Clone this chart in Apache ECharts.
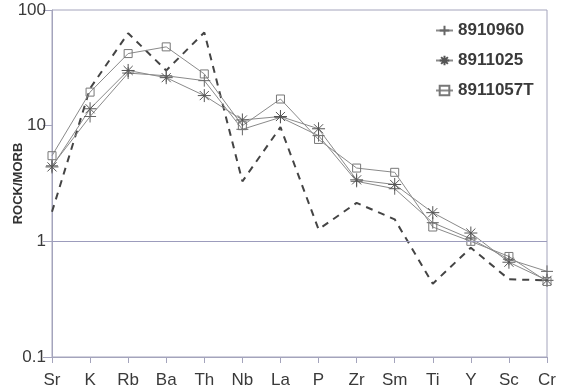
<!DOCTYPE html>
<html>
<head>
<meta charset="utf-8">
<script src="https://cdn.jsdelivr.net/npm/echarts@6/dist/echarts.min.js"></script>
<style>html,body{margin:0;padding:0;background:#fff}#c{width:567px;height:392px}</style>
</head>
<body>
<div id="c"></div>
<script>
var categories = ['Sr','K','Rb','Ba','Th','Nb','La','P','Zr','Sm','Ti','Y','Sc','Cr'];
var s8910960  = [4.5, 12, 28.5, 27, 24.5, 9.3, 11.8, 8.2, 3.3, 2.85, 1.45, 1.05, 0.70, 0.55];
var s8911025  = [4.4, 14, 30, 26, 18.2, 11.2, 12, 9.4, 3.4, 3.1, 1.77, 1.18, 0.66, 0.46];
var s8911057T = [5.5, 19.5, 42, 48, 28, 10, 17, 7.6, 4.3, 3.95, 1.33, 1.0, 0.74, 0.45];
var reference = [1.8, 21, 63, 30, 64, 3.3, 9.7, 1.27, 2.15, 1.55, 0.43, 0.88, 0.47, 0.46];
var yTicks = [0.1, 1, 10, 100];

var FONT = 'Liberation Sans, Arial, sans-serif';
var AX = '#a4a4bc';
var plusPath = 'path://M0,5L10,5M5,0L5,10';
var starPath = 'path://M0,5L10,5M5,0L5,10M1.5,1.5L8.5,8.5M8.5,1.5L1.5,8.5';

function sampleSeries(name, data, symbol, size, col) {
  return {
    name: name, type: 'line', data: data,
    symbol: symbol, symbolSize: size, showSymbol: true,
    lineStyle: {color: '#8a8a8a', width: 1},
    itemStyle: {color: 'transparent', borderColor: col, borderWidth: 1},
    emphasis: {disabled: true}, z: 3
  };
}

var chart = echarts.init(document.getElementById('c'), null, {renderer: 'canvas'});
chart.setOption({
  animation: false,
  backgroundColor: '#fff',
  grid: {left: 52, right: 20, top: 10, bottom: 35, containLabel: false, outerBoundsMode: 'none',
    show: true, borderColor: AX, borderWidth: 1, backgroundColor: 'transparent'},
  legend: {
    data: ['8910960', '8911025', '8911057T'],
    orient: 'vertical', left: 430, top: 17,
    itemWidth: 17, itemHeight: 12, itemGap: 13,
    textStyle: {fontFamily: FONT, fontWeight: 'bold', fontSize: 17, color: '#3a3a3a'}
  },
  xAxis: {
    type: 'category', data: categories, boundaryGap: false,
    axisLine: {lineStyle: {color: AX, width: 1}},
    axisTick: {show: true, alignWithLabel: true, length: 6, lineStyle: {color: AX}},
    axisLabel: {fontFamily: FONT, fontSize: 17, color: '#3a3a3a', margin: 15},
    splitLine: {show: false}
  },
  yAxis: {
    type: 'log', logBase: 10, min: 0.1, max: 100,
    name: 'ROCK/MORB', nameLocation: 'middle', nameGap: 27, nameMoveOverlap: false,
    nameTextStyle: {fontFamily: FONT, fontWeight: 'bold', fontSize: 13, color: '#333'},
    axisLine: {show: true, lineStyle: {color: AX, width: 1}},
    axisTick: {show: true, length: 9, lineStyle: {color: AX}},
    axisLabel: {fontFamily: FONT, fontSize: 17, color: '#3a3a3a', margin: 6,
      formatter: function (v) { var t = yTicks.filter(function(x){return Math.abs(x - v) < 1e-9;}); return t.length ? String(t[0]) : ''; }},
    splitLine: {show: false}
  },
  series: [
    sampleSeries('8910960', s8910960, plusPath, 12, '#666'),
    sampleSeries('8911025', s8911025, starPath, 13, '#555'),
    sampleSeries('8911057T', s8911057T, 'rect', 8, '#777'),
    {
      name: 'reference', type: 'line', data: reference, symbol: 'none',
      lineStyle: {color: '#444', width: 2, type: [7, 6]},
      emphasis: {disabled: true}, z: 2,
      markLine: {silent: true, symbol: 'none', label: {show: false},
        lineStyle: {color: '#9c9cbc', width: 1, type: 'solid'},
        data: [{yAxis: 1}]}
    }
  ]
});
</script>
</body>
</html>
